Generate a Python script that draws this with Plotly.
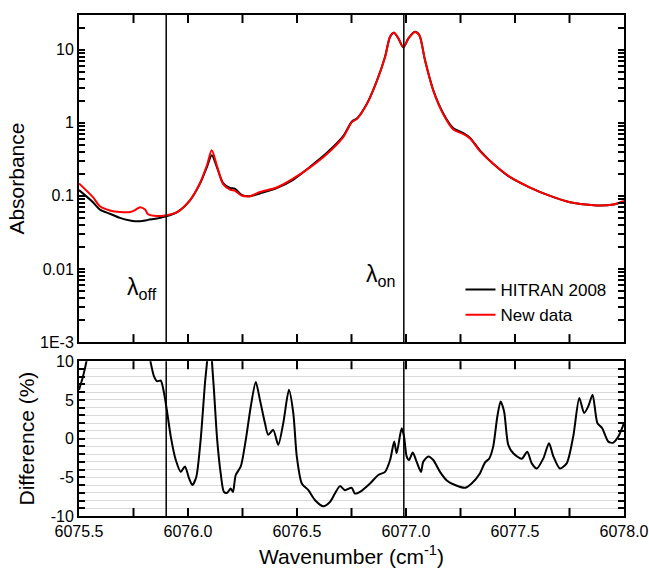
import plotly.graph_objects as go

# Absorbance spectra (wavenumber in cm^-1)
wn_abs = [6075.500, 6075.564, 6075.596, 6075.642, 6075.688, 6075.734, 6075.757,
          6075.780, 6075.803, 6075.817, 6075.858, 6075.894, 6075.950, 6076.009,
          6076.055, 6076.087, 6076.109, 6076.132, 6076.161, 6076.193, 6076.216,
          6076.246, 6076.284, 6076.330, 6076.407, 6076.482, 6076.560, 6076.636,
          6076.711, 6076.752, 6076.775, 6076.821, 6076.867, 6076.904, 6076.927,
          6076.945, 6076.965, 6076.988, 6077.011, 6077.041, 6077.061, 6077.087,
          6077.125, 6077.171, 6077.217, 6077.263, 6077.294, 6077.339, 6077.400,
          6077.477, 6077.569, 6077.661, 6077.752, 6077.875, 6077.951, 6078.000]

hitran_2008 = [0.120, 0.082, 0.065, 0.057, 0.050, 0.046, 0.045,
               0.045, 0.046, 0.047, 0.049, 0.052, 0.060, 0.087,
               0.147, 0.250, 0.360, 0.250, 0.150, 0.128, 0.125,
               0.103, 0.099, 0.108, 0.128, 0.166, 0.250, 0.385,
               0.650, 1.040, 1.140, 1.830, 3.800, 8.00, 15.0,
               17.0, 14.2, 10.7, 14.2, 17.5, 15.8, 7.20,
               2.80, 1.34, 0.84, 0.72, 0.62, 0.42, 0.275,
               0.180, 0.130, 0.100, 0.082, 0.074, 0.076, 0.083]

new_data = [0.148, 0.096, 0.072, 0.063, 0.060, 0.060, 0.064,
            0.070, 0.065, 0.056, 0.053, 0.054, 0.060, 0.087,
            0.150, 0.262, 0.420, 0.262, 0.145, 0.122, 0.117,
            0.101, 0.099, 0.113, 0.130, 0.172, 0.245, 0.370,
            0.630, 1.020, 1.130, 1.810, 3.750, 7.90, 15.0,
            17.0, 14.3, 10.8, 14.1, 17.4, 15.7, 7.20,
            2.75, 1.31, 0.81, 0.70, 0.61, 0.41, 0.275,
            0.182, 0.130, 0.100, 0.082, 0.074, 0.076, 0.085]

# Relative difference between the two data sets (%)
wn_diff = [6075.500, 6075.518, 6075.538, 6075.600, 6075.750, 6075.829, 6075.844,
           6075.859, 6075.875, 6075.890, 6075.905, 6075.921, 6075.944, 6075.967,
           6075.986, 6076.005, 6076.020, 6076.038, 6076.058, 6076.078, 6076.089,
           6076.100, 6076.109, 6076.119, 6076.134, 6076.150, 6076.165, 6076.180,
           6076.196, 6076.206, 6076.219, 6076.242, 6076.265, 6076.288, 6076.311,
           6076.330, 6076.353, 6076.368, 6076.391, 6076.414, 6076.437, 6076.463,
           6076.483, 6076.499, 6076.522, 6076.552, 6076.583, 6076.621, 6076.651,
           6076.674, 6076.697, 6076.720, 6076.751, 6076.766, 6076.789, 6076.835,
           6076.873, 6076.904, 6076.927, 6076.946, 6076.957, 6076.980, 6076.991,
           6077.003, 6077.014, 6077.031, 6077.049, 6077.069, 6077.079, 6077.102,
           6077.125, 6077.156, 6077.187, 6077.225, 6077.271, 6077.301, 6077.339,
           6077.362, 6077.382, 6077.400, 6077.419, 6077.434, 6077.450, 6077.469,
           6077.492, 6077.531, 6077.556, 6077.577, 6077.600, 6077.630, 6077.656,
           6077.676, 6077.706, 6077.737, 6077.767, 6077.795, 6077.817, 6077.836,
           6077.856, 6077.878, 6077.900, 6077.928, 6077.951, 6077.974, 6077.994,
           6078.000]

difference = [6.3, 8.0, 10.5, 22.0, 22.0, 9.8, 8.05,
              7.4, 7.5, 5.9, 3.3, 0.26, -2.77, -4.3,
              -3.6, -5.15, -6.0, -4.95, -0.17, 7.2, 10.5,
              20.0, 10.5, 6.3, -0.2, -4.5, -6.9, -7.0,
              -6.45, -6.9, -4.7, -3.6, -0.17, 4.15, 7.3,
              5.0, 2.0, 0.48, 1.13, -0.8, 2.0, 6.3,
              3.3, -2.3, -5.8, -6.66, -7.96, -8.74, -8.2,
              -7.1, -6.14, -6.66, -6.36, -7.1, -6.88, -5.8,
              -4.7, -4.3, -2.77, -0.39, -1.9, 1.34, 0.26,
              -2.3, -2.77, -1.8, -3.0, -4.3, -3.0, -2.3,
              -2.77, -4.3, -5.4, -6.0, -6.36, -5.8, -4.5,
              -3.1, -2.56, -1.04, 2.86, 4.8, 3.5, -0.8,
              -1.9, -2.6, -1.7, -3.2, -3.86, -2.56, -0.6,
              -2.3, -3.86, -3.2, 0.26, 5.23, 3.3, 4.16,
              5.68, 2.0, 1.34, -0.39, -0.52, 0.26, 1.56,
              2.0]

# Laser wavelengths
lambda_off = 6075.9
lambda_on = 6076.99

abs_major = [0.001, 0.01, 0.1, 1, 10]
abs_labels = ["1E-3", "0.01", "0.1", "1", "10"]
diff_major = [-10, -5, 0, 5, 10]
diff_labels = ["-10", "-5", "0", "5", "10"]

FONT = "Liberation Sans, Arial, sans-serif"

# Tick sets: labelled decades / multiples of 5 plus unlabelled intermediate ticks
abs_minor = [m * 10.0 ** e for e in range(-3, 2) for m in range(2, 10)]
abs_tickvals = abs_major + abs_minor
abs_ticktext = abs_labels + [""] * len(abs_minor)
diff_minor = [v for v in range(-10, 11) if v % 5 != 0]
diff_tickvals = diff_major + diff_minor
diff_ticktext = diff_labels + [""] * len(diff_minor)

fig = go.Figure()
fig.add_trace(go.Scatter(x=wn_abs, y=hitran_2008, name="HITRAN 2008", mode="lines",
                         line=dict(color="black", width=2, shape="spline", smoothing=0.8),
                         xaxis="x", yaxis="y"))
fig.add_trace(go.Scatter(x=wn_abs, y=new_data, name="New data", mode="lines",
                         line=dict(color="#ff0000", width=2, shape="spline", smoothing=0.8),
                         xaxis="x", yaxis="y"))
fig.add_trace(go.Scatter(x=wn_diff, y=difference, mode="lines", showlegend=False,
                         line=dict(color="black", width=2, shape="spline", smoothing=0.7),
                         xaxis="x2", yaxis="y2"))

common_x = dict(range=[6075.5, 6078.0], dtick=0.5, tick0=6075.5, tickformat=".1f",
                ticks="inside", ticklen=8, tickwidth=2, tickcolor="black",
                showline=True, linewidth=2, linecolor="black", mirror="allticks",
                showgrid=False, zeroline=False, automargin=False)

fig.update_layout(
    width=649, height=571,
    margin=dict(l=79, r=25, t=15, b=55, autoexpand=False),
    paper_bgcolor="white", plot_bgcolor="rgba(0,0,0,0)",
    font=dict(family=FONT, size=16, color="black"),
    xaxis=dict(common_x, domain=[0, 1], anchor="y", showticklabels=False),
    yaxis=dict(type="log", domain=[0.347, 1.0], anchor="x", range=[-3, 1.473],
               tickmode="array", tickvals=abs_tickvals, ticktext=abs_ticktext,
               ticks="inside", ticklen=6, tickwidth=2, tickcolor="black",
               showline=True, linewidth=2, linecolor="black", mirror="allticks",
               showgrid=False, zeroline=False, automargin=False,
               title=dict(text="Absorbance", font=dict(size=21), standoff=10)),
    xaxis2=dict(common_x, domain=[0, 1], anchor="y2",
                title=dict(text="Wavenumber (cm<sup>-1</sup>)", font=dict(size=21),
                           standoff=10)),
    yaxis2=dict(domain=[0, 0.309], anchor="x2", range=[-10, 10],
                tickmode="array", tickvals=diff_tickvals, ticktext=diff_ticktext,
                ticks="inside", ticklen=6, tickwidth=2, tickcolor="black",
                showgrid=True, gridcolor="#dadada", gridwidth=1,
                showline=True, linewidth=2, linecolor="black", mirror="allticks",
                zeroline=False, automargin=False,
                title=dict(text="Difference (%)", font=dict(size=21), standoff=10)),
    legend=dict(x=0.70, y=0.487, xanchor="left", yanchor="top",
                bgcolor="rgba(0,0,0,0)", font=dict(size=17),
                tracegroupgap=0),
    showlegend=True,
)

# Inward wavenumber tick marks on the top and bottom frame edges of both panels
# (length given as a fraction of each panel's height)
wn_marks = [6075.5 + 0.25 * k for k in range(1, 10)]
for xr, yr, frac in (("x", "y domain", 0.0245), ("x2", "y2 domain", 0.052)):
    for wn in wn_marks:
        for y0, y1 in ((0, frac), (1, 1 - frac)):
            fig.add_shape(type="line", xref=xr, yref=yr, x0=wn, x1=wn, y0=y0, y1=y1,
                          line=dict(color="black", width=2), layer="above")

# Vertical markers at the on/off laser positions in both panels
for wl in (lambda_off, lambda_on):
    for xr, yr in (("x", "y domain"), ("x2", "y2 domain")):
        fig.add_shape(type="line", xref=xr, yref=yr, x0=wl, x1=wl, y0=0, y1=1,
                      line=dict(color="black", width=1.5), layer="above")

fig.add_annotation(text="λ<sub>off</sub>", xref="x", yref="y domain",
                   x=6075.789, y=0.113, showarrow=False,
                   font=dict(size=23, family=FONT))
fig.add_annotation(text="λ<sub>on</sub>", xref="x", yref="y domain",
                   x=6076.885, y=0.152, showarrow=False,
                   font=dict(size=23, family=FONT))

fig.write_html("out.html")
